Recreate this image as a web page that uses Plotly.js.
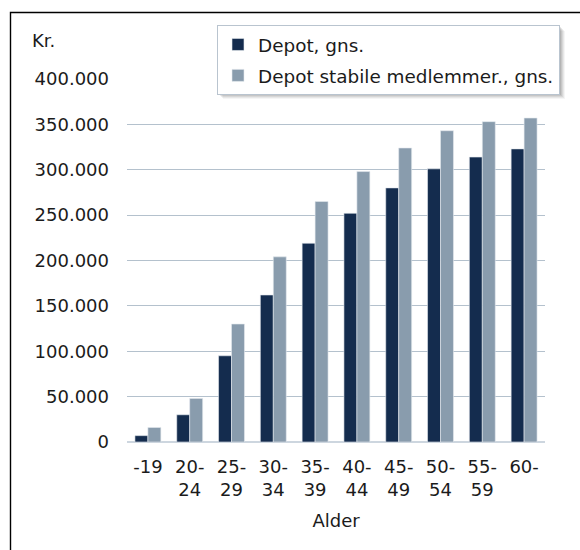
<!DOCTYPE html>
<html>
<head>
<meta charset="utf-8">
<script src="https://cdn.plot.ly/plotly-3.0.1.min.js"></script>
<style>
  html, body { margin: 0; padding: 0; background: #ffffff; }
  #chart { width: 580px; height: 550px; }
</style>
</head>
<body>
<div id="chart"></div>
<script>
// ---- data ----
var ageGroups = ["-19", "20-<br>24", "25-<br>29", "30-<br>34", "35-<br>39", "40-<br>44", "45-<br>49", "50-<br>54", "55-<br>59", "60-"];
var depotAvg = [7000, 30000, 95000, 162000, 219000, 252000, 280000, 301000, 314000, 323000];
var depotStableAvg = [16000, 48000, 130000, 204000, 265000, 298000, 324000, 343000, 353000, 357000];
var seriesNames = ["Depot, gns.", "Depot stabile medlemmer., gns."];
var yTickValues = [0, 50000, 100000, 150000, 200000, 250000, 300000, 350000, 400000];

// ---- layout geometry (pixels) ----
var W = 580, H = 550;
var M = {l: 127, r: 35, t: 79, b: 108};
var PW = W - M.l - M.r, PH = H - M.t - M.b;
function px(x) { return (x - M.l) / PW; }
function py(y) { return (H - M.b - y) / PH; }

var FONT = "DejaVu Sans, Verdana, sans-serif";
var TXT = "#1b1b1b";

var traces = [
  {
    type: "bar", x: ageGroups, y: depotAvg, name: seriesNames[0],
    legendgroup: "a",
    marker: {color: "#142c4e", line: {color: "#e4e9ee", width: 0.6}},
    hoverinfo: "skip"
  },
  {
    type: "bar", x: ageGroups, y: depotStableAvg, name: seriesNames[1],
    legendgroup: "b",
    marker: {color: "#899cad", line: {color: "#e4e9ee", width: 0.6}},
    hoverinfo: "skip"
  }
];

// legend shadow (layered translucent rects)
var shapes = [];
var lg = {x0: 217, x1: 559, y0: 25, y1: 93};
[[6, 0.05], [5, 0.07], [4, 0.09], [3, 0.11], [2, 0.13]].forEach(function (s) {
  shapes.push({
    type: "rect", xref: "paper", yref: "paper", layer: "above",
    x0: px(lg.x0 + s[0]), x1: px(lg.x1 + s[0]),
    y0: py(lg.y1 + s[0]), y1: py(lg.y0 + s[0]),
    line: {width: 0}, fillcolor: "rgba(60,60,60," + s[1] + ")"
  });
});
// outer frame
shapes.push({
  type: "rect", xref: "paper", yref: "paper", layer: "above",
  x0: px(10.5), x1: px(600), y0: py(600), y1: py(12.5),
  line: {color: "#000000", width: 1.4}, fillcolor: "rgba(0,0,0,0)"
});

var layout = {
  width: W, height: H,
  margin: M,
  paper_bgcolor: "#ffffff",
  plot_bgcolor: "#ffffff",
  separators: ",.",
  font: {family: FONT, size: 18, color: TXT},
  barmode: "group",
  bargap: 0.38,
  bargroupgap: 0,
  showlegend: true,
  legend: {
    x: px(lg.x0), y: py(lg.y0), xanchor: "left", yanchor: "top",
    bgcolor: "#ffffff", bordercolor: "#b9c4cf", borderwidth: 1,
    font: {family: FONT, size: 18.4, color: TXT},
    traceorder: "grouped", tracegroupgap: 4,
    itemwidth: 30
  },
  xaxis: {
    type: "category",
    showgrid: false, showline: false, zeroline: false,
    ticks: "", tickfont: {family: FONT, size: 18, color: TXT},
    tickangle: 0,
    ticklabelstandoff: 12,
    title: {text: "Alder", font: {family: FONT, size: 18, color: TXT}, standoff: 14},
    automargin: false
  },
  yaxis: {
    range: [0, 400000],
    tickvals: yTickValues,
    tickformat: ",d",
    showgrid: true, gridcolor: "#b4c1cd", gridwidth: 1,
    zeroline: true, zerolinecolor: "#cdd6df", zerolinewidth: 2,
    showline: false, ticks: "",
    ticklabelstandoff: 17,
    tickfont: {family: FONT, size: 18, color: TXT},
    automargin: false
  },
  annotations: [{
    text: "Kr.", xref: "paper", yref: "paper",
    x: px(30), y: py(40.5), xanchor: "left", yanchor: "middle",
    showarrow: false, font: {family: FONT, size: 18, color: TXT}
  }],
  shapes: shapes
};

Plotly.newPlot("chart", traces, layout, {displayModeBar: false, staticPlot: true});
</script>
</body>
</html>
